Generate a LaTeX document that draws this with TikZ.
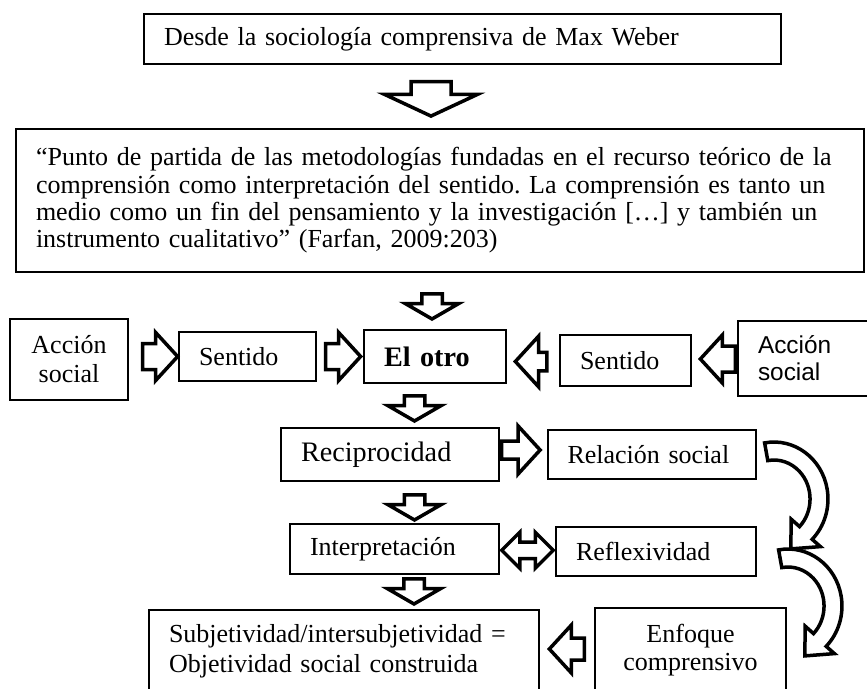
\documentclass[tikz,border=0pt]{standalone}
\usepackage{fontspec}
\setmainfont{Liberation Serif}
\newfontfamily\arialtxt{Liberation Sans}
\usetikzlibrary{shapes.arrows, positioning, calc}

\tikzset{
  caja/.style={draw, line width=2pt, inner xsep=20pt, inner ysep=2pt, align=left},
  flecha/.style={single arrow, draw, fill=white, line width=3.5pt, inner sep=0pt, anchor=tip},
  abajo/.style={flecha, shape border rotate=270, inner xsep=8.5pt, minimum height=25pt, minimum width=50pt, single arrow head extend=16.5pt, single arrow tip angle=120},
  derecha/.style={flecha, inner ysep=11.25pt, minimum height=35pt, minimum width=44.5pt, single arrow head extend=11pt, single arrow tip angle=95},
  izquierda/.style={derecha, shape border rotate=180},
  curva/.style={draw, fill=white, line width=3.5pt, line join=miter}
}

\begin{document}
\frenchspacing
\begin{tikzpicture}[x=1pt, y=-1pt, font=\fontsize{26pt}{28pt}\selectfont]
		\useasboundingbox (0,0) rectangle (867,688);
		% cajas
		\node[caja, text width=597pt, minimum height=50pt] (arriba) at (462.5,39) {Desde la sociología comprensiva de Max Weber};
		\node[caja, text width=808pt, minimum height=143pt, font=\fontsize{26pt}{27.3pt}\selectfont] (cita) at (440,200.5) {“Punto de partida de las metodologías fundadas en el recurso teórico de la\\
					comprensión como interpretación del sentido. La comprensión es tanto un\\
					medio como un fin del pensamiento y la investigación […] y también un\\
					instrumento cualitativo” (Farfan, 2009:203)};
		\node[caja, align=center, text width=78pt, minimum height=81pt, font=\fontsize{26pt}{29pt}\selectfont] (accionL) at (69,359.5) {Acción\\social};
		\node[caja, text width=97pt, minimum height=49pt] (sentidoL) at (247.5,356.5) {Sentido};
		\node[caja, text width=102pt, minimum height=53pt, font=\fontsize{28.2pt}{30pt}\selectfont\bfseries] (otro) at (435,356.5) {El otro};
		\node[caja, text width=91pt, minimum height=51pt] (sentidoR) at (625.5,360.5) {Sentido};
		\node[caja, text width=93pt, minimum height=75pt, font=\arialtxt\fontsize{24.4pt}{27pt}\selectfont] (accionR) at (804.5,358.5) {Acción\\social};
		\node[caja, text width=178pt, minimum height=53pt, font=\fontsize{28.2pt}{30pt}\selectfont] (recipro) at (390,454.5) {Reciprocidad};
		\node[caja, text width=168pt, minimum height=49pt] (relacion) at (651.5,454.5) {Relación social};
		\node[caja, text width=169pt, minimum height=50pt] (interp) at (394.5,549) {Interpretación};
		\node[caja, text width=160pt, minimum height=49pt] (reflex) at (656,551.5) {Reflexividad};
		\node[caja, text width=350pt, minimum height=82pt, font=\fontsize{26pt}{30pt}\selectfont] (subjet) at (344,651) {Subjetividad/intersubjetividad =\\Objetividad social construida};
		\node[caja, align=center, text width=151pt, minimum height=84pt] (enfoque) at (690.5,650) {Enfoque\\comprensivo};
		% flechas
		\node[flecha, shape border rotate=270, inner xsep=18.25pt, minimum height=34.5pt, minimum width=89.5pt, single arrow head extend=26.5pt, single arrow tip angle=130] (f1) at ($(cita.north)+(-9,-10)$) {};
		\node[abajo] (f2) at ($(otro.north)+(-3,-8)$) {};
		\node[derecha] (f3) at ($(sentidoL.west)+(2,0)$) {};
		\node[derecha] (f4) at (otro.west) {};
		\node[izquierda, inner ysep=7.5pt, minimum height=31.5pt, minimum width=47.5pt, single arrow head extend=16.25pt] (f5) at ($(otro.east)+(6,5)$) {};
		\node[izquierda] (f6) at ($(sentidoR.east)+(6,-1.5)$) {};
		\node[abajo] (f7) at ($(recipro.north)+(24.5,-4)$) {};
		\node[derecha, inner ysep=7.25pt, minimum height=38.5pt, single arrow head extend=15pt] (f8) at ($(relacion.west)+(-4,-4.5)$) {};
		\node[abajo] (f9) at ($(interp.north)+(20,-1)$) {};
		\node[draw, double arrow, fill=white, line width=3.5pt, inner xsep=0pt, inner ysep=6.5pt, minimum height=51.5pt, minimum width=32.5pt, double arrow head extend=9.75pt, double arrow tip angle=90] (f10) at ($(interp.east)!.5!(reflex.west)$) {};
		\node[abajo] (f11) at ($(subjet.north)+(70,-3)$) {};
		\node[izquierda, inner ysep=9.25pt, single arrow head extend=13pt] (f12) at ($(subjet.east)+(7,-2)$) {};
		% flechas curvas
		\foreach \dx/\dy in {0/0, 14/107}{
			\begin{scope}[shift={(\dx,\dy)}]
				\draw[curva] (764.6,442.9) arc[start angle=-100, end angle=45, x radius=54, y radius=57]
					-- (820.4,546.6) -- (790.8,548.9) -- (791.2,519.2) -- (799.5,526.6)
					arc[start angle=45, end angle=-100, x radius=36, y radius=39] -- cycle;
			\end{scope}
		}
	\end{tikzpicture}
\end{document}
